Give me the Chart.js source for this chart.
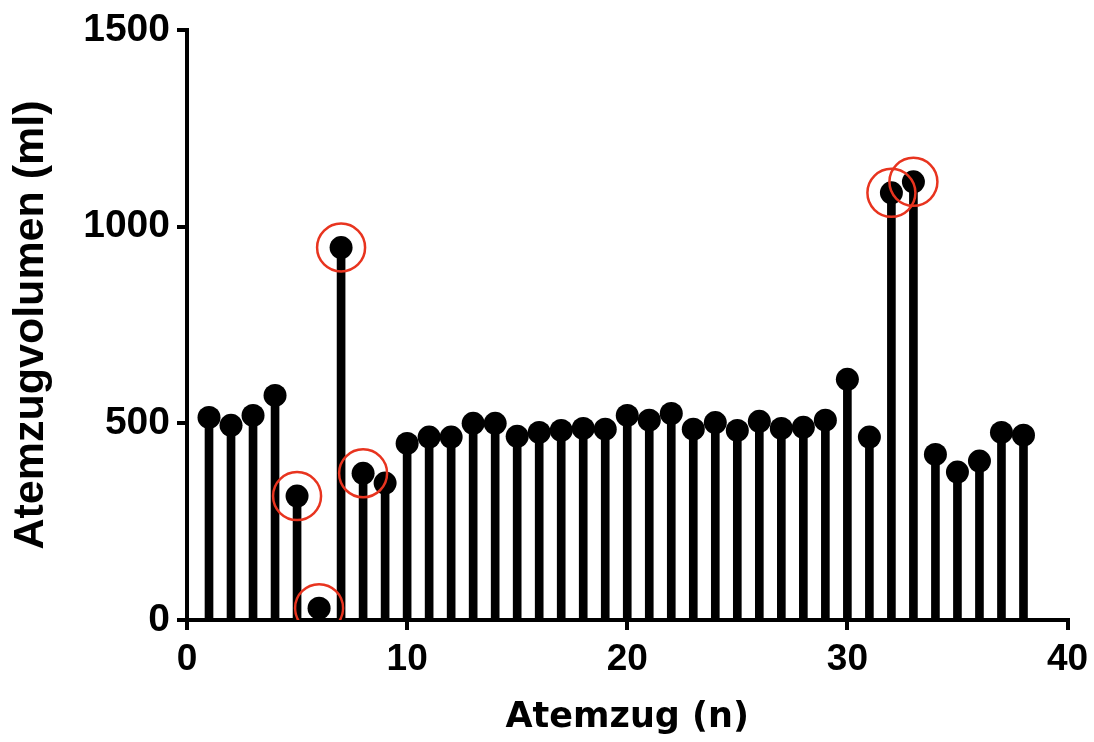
<!DOCTYPE html>
<html>
<head>
<meta charset="utf-8">
<script src="https://cdn.jsdelivr.net/npm/chart.js@4"></script>
<style>
  html, body { margin: 0; padding: 0; background: #fff; }
  #wrap { width: 1094px; height: 742px; }
</style>
</head>
<body>
<div id="wrap"><canvas id="breathChart" width="1094" height="742"></canvas></div>
<script>
// Atemzug-Nummern und Volumen (ml)
const breaths = [1, 2, 3, 4, 5, 6, 7, 8, 9, 10, 11, 12, 13, 14, 15, 16, 17, 18, 19, 20,
    21, 22, 23, 24, 25, 26, 27, 28, 29, 30, 31, 32, 33, 34, 35, 36, 37, 38];
const volumes = [515, 495, 520, 571, 315, 30, 947, 373, 348, 449,
    465, 465, 500, 500, 467, 477, 482, 487, 485, 520,
    508, 525, 485, 502, 482, 505, 487, 490, 508, 612,
    465, 1086, 1114, 421, 376, 404, 477, 470];
// markierte Atemzüge (rote Kreise)
const flagged = [5, 6, 7, 8, 32, 33];

const yTicks = [0, 500, 1000, 1500];
const xTicks = [0, 10, 20, 30, 40];

const points = breaths.map((b, i) => ({ x: b, y: volumes[i] }));
const flaggedPoints = flagged.map(b => ({ x: b, y: volumes[breaths.indexOf(b)] }));

const ctx = document.getElementById('breathChart').getContext('2d');

const axisGrid = {
    display: true,
    offset: false,
    drawOnChartArea: false,
    drawTicks: true,
    tickLength: 10,
    tickWidth: 4,
    tickColor: '#000',
    color: '#000',
    lineWidth: 4
};

new Chart(ctx, {
    type: 'scatter',
    data: {
        datasets: [
            {
                // rote Kreise
                type: 'scatter',
                data: flaggedPoints,
                pointRadius: 24,
                pointBackgroundColor: 'rgba(0,0,0,0)',
                pointBorderColor: '#e8341f',
                pointBorderWidth: 2.5,
                order: 0
            },
            {
                type: 'scatter',
                data: points,
                pointRadius: 11.5,
                pointBackgroundColor: '#000',
                pointBorderWidth: 0,
                order: 1
            },
            {
                // Stiele
                type: 'bar',
                data: points,
                backgroundColor: '#000',
                barThickness: 8,
                order: 2
            }
        ]
    },
    options: {
        responsive: false,
        animation: false,
        layout: { padding: { top: 30, right: 23, left: 0, bottom: 0 } },
        plugins: {
            legend: { display: false },
            tooltip: { enabled: false }
        },
        scales: {
            x: {
                type: 'linear',
                offset: false,
                min: 0,
                max: 40,
                afterFit: (scale) => {
                    scale.height = 122;
                    scale.paddingLeft = 0;
                    scale.paddingRight = 0;
                },
                afterBuildTicks: (scale) => { scale.ticks = xTicks.map(v => ({ value: v })); },
                grid: axisGrid,
                border: { display: true, color: '#000', width: 4 },
                ticks: {
                    color: '#000',
                    padding: 8,
                    callback: (v) => String(v),
                    font: { family: 'Liberation Sans', size: 37, weight: 'bold' }
                },
                title: {
                    display: true,
                    text: 'Atemzug (n)',
                    color: '#000',
                    padding: { top: 0, bottom: 3 },
                    font: { family: 'DejaVu Sans', size: 35, weight: 'bold' }
                }
            },
            y: {
                min: 0,
                max: 1500,
                offset: false,
                afterFit: (scale) => {
                    scale.width = 187;
                    scale.paddingTop = 0;
                    scale.paddingBottom = 0;
                },
                afterBuildTicks: (scale) => { scale.ticks = yTicks.map(v => ({ value: v })); },
                grid: axisGrid,
                border: { display: true, color: '#000', width: 4 },
                ticks: {
                    color: '#000',
                    padding: 7,
                    callback: (v) => String(v),
                    font: { family: 'Liberation Sans', size: 39, weight: 'bold' }
                },
                title: {
                    display: true,
                    text: 'Atemzugvolumen (ml)',
                    color: '#000',
                    padding: { top: 5, bottom: 0 },
                    font: { family: 'Liberation Sans', size: 43, weight: 'bold' }
                }
            }
        }
    }
});
</script>
</body>
</html>
